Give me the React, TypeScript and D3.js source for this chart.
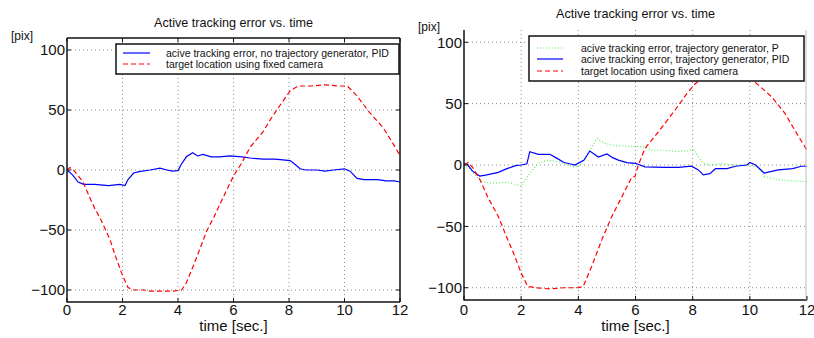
import React from "react";
import * as d3 from "d3";

// ---------- data ----------
const xTicks = [0, 2, 4, 6, 8, 10, 12];
const yTicks = [-100, -50, 0, 50, 100];

// Left plot
const tLRed = [0, 0.1, 0.2, 0.58, 0.8, 1.0, 1.19, 1.35, 1.55, 1.75, 1.97, 2.2, 2.4, 2.8, 3.0, 3.4, 3.8, 4.13, 4.3, 4.55, 4.8, 5.03, 5.3, 5.5, 5.75, 6.0, 6.3, 6.6, 7.07, 7.3, 7.56, 8.04, 8.33, 8.8, 9.3, 9.8, 10.1, 10.44, 10.9, 11.4, 11.75, 12];
const vLRed = [0, 2, 1, -10, -22, -32, -40, -48, -58, -72, -86, -98, -100, -100, -101, -101, -101, -100, -94, -80, -65, -51, -39, -29, -17, -5, 6, 19, 32, 41, 50, 66, 70, 70, 71, 70, 70, 62, 48, 35, 22, 12];
const tLBlue = [0, 0.2, 0.4, 0.6, 1.0, 1.5, 1.9, 2.09, 2.2, 2.4, 2.6, 3.0, 3.35, 3.6, 3.8, 4.0, 4.1, 4.3, 4.53, 4.7, 4.9, 5.2, 5.5, 5.87, 6.3, 6.6, 7.07, 7.5, 8.04, 8.2, 8.4, 8.6, 9.0, 9.3, 9.6, 10.0, 10.2, 10.45, 10.7, 10.9, 11.2, 11.5, 11.8, 12];
const vLBlue = [0, -4, -10, -12, -12, -13, -12, -13, -8, -2.5, -1.4, 0, 1.6, 0, -1, -0.5, 4, 11, 14.4, 11.7, 13, 11, 11, 11.7, 11, 10, 9, 9, 7.8, 5, 1, 0, 0, -1, 0, 1, -1, -7, -8, -8, -8, -9, -9, -10];

// Right plot
const tRRed = [0, 0.15, 0.3, 0.56, 0.85, 1.2, 1.49, 1.78, 2.0, 2.23, 2.5, 3.0, 3.5, 4.0, 4.17, 4.47, 4.82, 5.17, 5.52, 5.87, 5.98, 6.1, 6.33, 6.8, 7.38, 7.79, 8.08, 8.3, 9.0, 10.0, 10.18, 10.77, 11.23, 11.64, 12];
const vRRed = [0, 2, -2, -12, -27, -42, -58.5, -74.5, -88, -99, -100, -101, -100, -100, -99, -82.5, -61, -42, -26, -10, -9.5, 0, 13.5, 27, 44.6, 58, 66, 70, 70, 70, 67.6, 55.4, 42, 25.7, 12];
const tRBlue = [0, 0.1, 0.3, 0.55, 0.8, 1.2, 1.5, 1.8, 2.0, 2.2, 2.3, 2.6, 3.0, 3.24, 3.5, 3.7, 3.88, 4.2, 4.4, 4.7, 5.0, 5.2, 5.4, 5.7, 6.0, 6.33, 7.0, 7.5, 7.96, 8.2, 8.37, 8.6, 8.8, 9.2, 9.5, 9.9, 10.0, 10.2, 10.5, 10.8, 11.0, 11.5, 11.8, 12];
const vRBlue = [1, 1, -5, -9, -8, -6, -3, -0.5, 0, 1, 10.8, 8.7, 8.7, 5.6, 2, 1, 0, 4, 11.4, 6.5, 9, 6, 4, 2, 1.4, -1.5, -2, -2, -1, -4, -8, -7, -3, -3, -1, 0, 2, 0, -6.5, -5, -4, -3, -1, -1];
const tRGreen = [0, 0.2, 0.4, 0.62, 1.0, 1.5, 2.0, 2.2, 2.4, 2.6, 2.94, 3.2, 3.5, 3.8, 4.0, 4.2, 4.4, 4.64, 4.9, 5.2, 5.63, 6.0, 6.33, 6.57, 7.0, 7.4, 7.85, 8.0, 8.2, 8.37, 8.6, 9.0, 9.5, 10.0, 10.3, 10.5, 10.8, 11.0, 11.5, 12];
const vRGreen = [0, -3, -8, -13.5, -15, -14, -17, -10, -4, 1.4, 4, 3, 1.4, -1.4, -1, 4, 12, 21.6, 18, 16, 15.4, 15, 14.9, 12, 12, 11, 11.6, 13, 7, 1.4, 0, 1, 0, 0, -2, -9.5, -11, -12, -13, -13.5];

const legendLeft = ["acive tracking error, no trajectory generator, PID", "target location using fixed camera"];
const legendRight = ["acive tracking error, trajectory generator, P", "acive tracking error, trajectory generator, PID", "target location using fixed camera"];
const title = "Active tracking error vs. time";

const FONT = "'Liberation Sans', Arial, Helvetica, sans-serif";

type Series = { t: number[]; v: number[]; color: string; dash?: string; width: number };

function Panel(props: {
  x0: number; x1: number; y0: number; y1: number;
  series: Series[];
  legend: string[]; legendStyles: Series[];
  lgX0: number; lgX1: number; lgY0: number; lgY1: number; lgRows: number[]; lgLine: [number, number]; lgText: number;
  titleY: number; pixX: number; pixY: number; box: boolean;
}) {
  const { x0, x1, y0, y1 } = props;
  const x = d3.scaleLinear().domain([0, 12]).range([x0, x1]);
  const y = d3.scaleLinear().domain([-110, 110]).range([y1, y0]);
  const line = d3.line<number>();
  const cx = (x0 + x1) / 2;
  return (
    <g>
      {/* grid */}
      {xTicks.slice(1, -1).map((t) => (
        <line key={"gx" + t} x1={x(t)} x2={x(t)} y1={y0} y2={y1} stroke="#8a8a8a" strokeWidth={1} strokeDasharray="1,3" />
      ))}
      {yTicks.map((v) => (
        <line key={"gy" + v} x1={x0} x2={x1} y1={y(v)} y2={y(v)} stroke="#8a8a8a" strokeWidth={1} strokeDasharray="1,3" />
      ))}
      {/* series */}
      {props.series.map((s, i) => (
        <path key={i} d={line.x((_, k) => x(s.t[k])).y((d) => y(d))(s.v) || ""} fill="none" stroke={s.color} strokeWidth={s.width} strokeDasharray={s.dash} strokeLinejoin="miter" />
      ))}
      {/* axes */}
      <line x1={x0} x2={x0} y1={y0} y2={y1 + 0.5} stroke="#111" strokeWidth={1.5} />
      <line x1={x0} x2={x1} y1={y1} y2={y1} stroke="#111" strokeWidth={1.5} />
      {props.box ? (
        <g>
          <line x1={x0} x2={x1} y1={y0} y2={y0} stroke="#111" strokeWidth={1.5} />
          <line x1={x1} x2={x1} y1={y0} y2={y1} stroke="#111" strokeWidth={1.5} />
        </g>
      ) : (
        <line x1={x1 - 1} x2={x1 - 1} y1={y0} y2={y1} stroke="#bbb" strokeWidth={1} />
      )}
      {/* ticks */}
      {xTicks.map((t) => (
        <g key={"tx" + t}>
          <line x1={x(t)} x2={x(t)} y1={y1} y2={y1 - 4} stroke="#111" />
          {props.box && <line x1={x(t)} x2={x(t)} y1={y0} y2={y0 + 4} stroke="#111" />}
          <text x={x(t)} y={315} textAnchor="middle" fontSize={15} fontFamily={FONT} fill="#111">{t}</text>
        </g>
      ))}
      {yTicks.map((v) => (
        <g key={"ty" + v}>
          <line x1={x0} x2={x0 + 4} y1={y(v)} y2={y(v)} stroke="#111" />
          {props.box && <line x1={x1} x2={x1 - 4} y1={y(v)} y2={y(v)} stroke="#111" />}
          <text x={x0 - 2} y={y(v)} dy="0.36em" textAnchor="end" fontSize={15} fontFamily={FONT} fill="#111">{v < 0 ? "\u2212" + Math.abs(v) : v}</text>
        </g>
      ))}
      {/* labels */}
      <text x={cx} y={props.titleY} textAnchor="middle" fontSize={12.6} fontFamily={FONT} fill="#111">{title}</text>
      <text x={props.pixX} y={props.pixY} fontSize={12} fontFamily={FONT} fill="#111">[pix]</text>
      <text x={cx} y={331} textAnchor="middle" fontSize={15} fontFamily={FONT} fill="#111">time [sec.]</text>
      {/* legend */}
      <rect x={props.lgX0} y={props.lgY0} width={props.lgX1 - props.lgX0} height={props.lgY1 - props.lgY0} fill="#fff" stroke="#111" strokeWidth={1.5} />
      {props.legend.map((label, i) => {
        const s = props.legendStyles[i];
        const ry = props.lgRows[i];
        return (
          <g key={"lg" + i}>
            <line x1={props.lgLine[0]} x2={props.lgLine[1]} y1={ry} y2={ry} stroke={s.color} strokeWidth={s.width} strokeDasharray={s.dash} />
            <text x={props.lgText} y={ry} dy="0.36em" fontSize={10.5} fontFamily={FONT} fill="#111">{label}</text>
          </g>
        );
      })}
    </g>
  );
}

export default function App() {
  const blue = "#0000ff";
  const red = "#ff0000";
  const green = "#55ee55";
  const leftSeries: Series[] = [
    { t: tLBlue, v: vLBlue, color: blue, width: 1.2 },
    { t: tLRed, v: vLRed, color: red, width: 1.2, dash: "5,3" },
  ];
  const rightSeries: Series[] = [
    { t: tRGreen, v: vRGreen, color: green, width: 1.2, dash: "1,2" },
    { t: tRBlue, v: vRBlue, color: blue, width: 1.2 },
    { t: tRRed, v: vRRed, color: red, width: 1.2, dash: "5,3" },
  ];
  return (
    <svg width={814} height={338} style={{ position: "absolute", left: 0, top: 0, background: "#fff" }}>
      <rect width={814} height={338} fill="#fff" />
      <Panel x0={67} x1={400} y0={38} y1={302} series={leftSeries}
        legend={legendLeft} legendStyles={[leftSeries[0], leftSeries[1]]}
        lgX0={116} lgX1={399} lgY0={44} lgY1={74} lgRows={[53, 64]} lgLine={[123, 150]} lgText={166}
        titleY={27} pixX={11} pixY={40} box={true} />
      <Panel x0={464} x1={807} y0={30} y1={300} series={rightSeries}
        legend={legendRight} legendStyles={rightSeries}
        lgX0={529} lgX1={804} lgY0={36} lgY1={81} lgRows={[48, 59, 71]} lgLine={[537, 563]} lgText={581}
        titleY={18} pixX={418} pixY={31} box={false} />
    </svg>
  );
}
